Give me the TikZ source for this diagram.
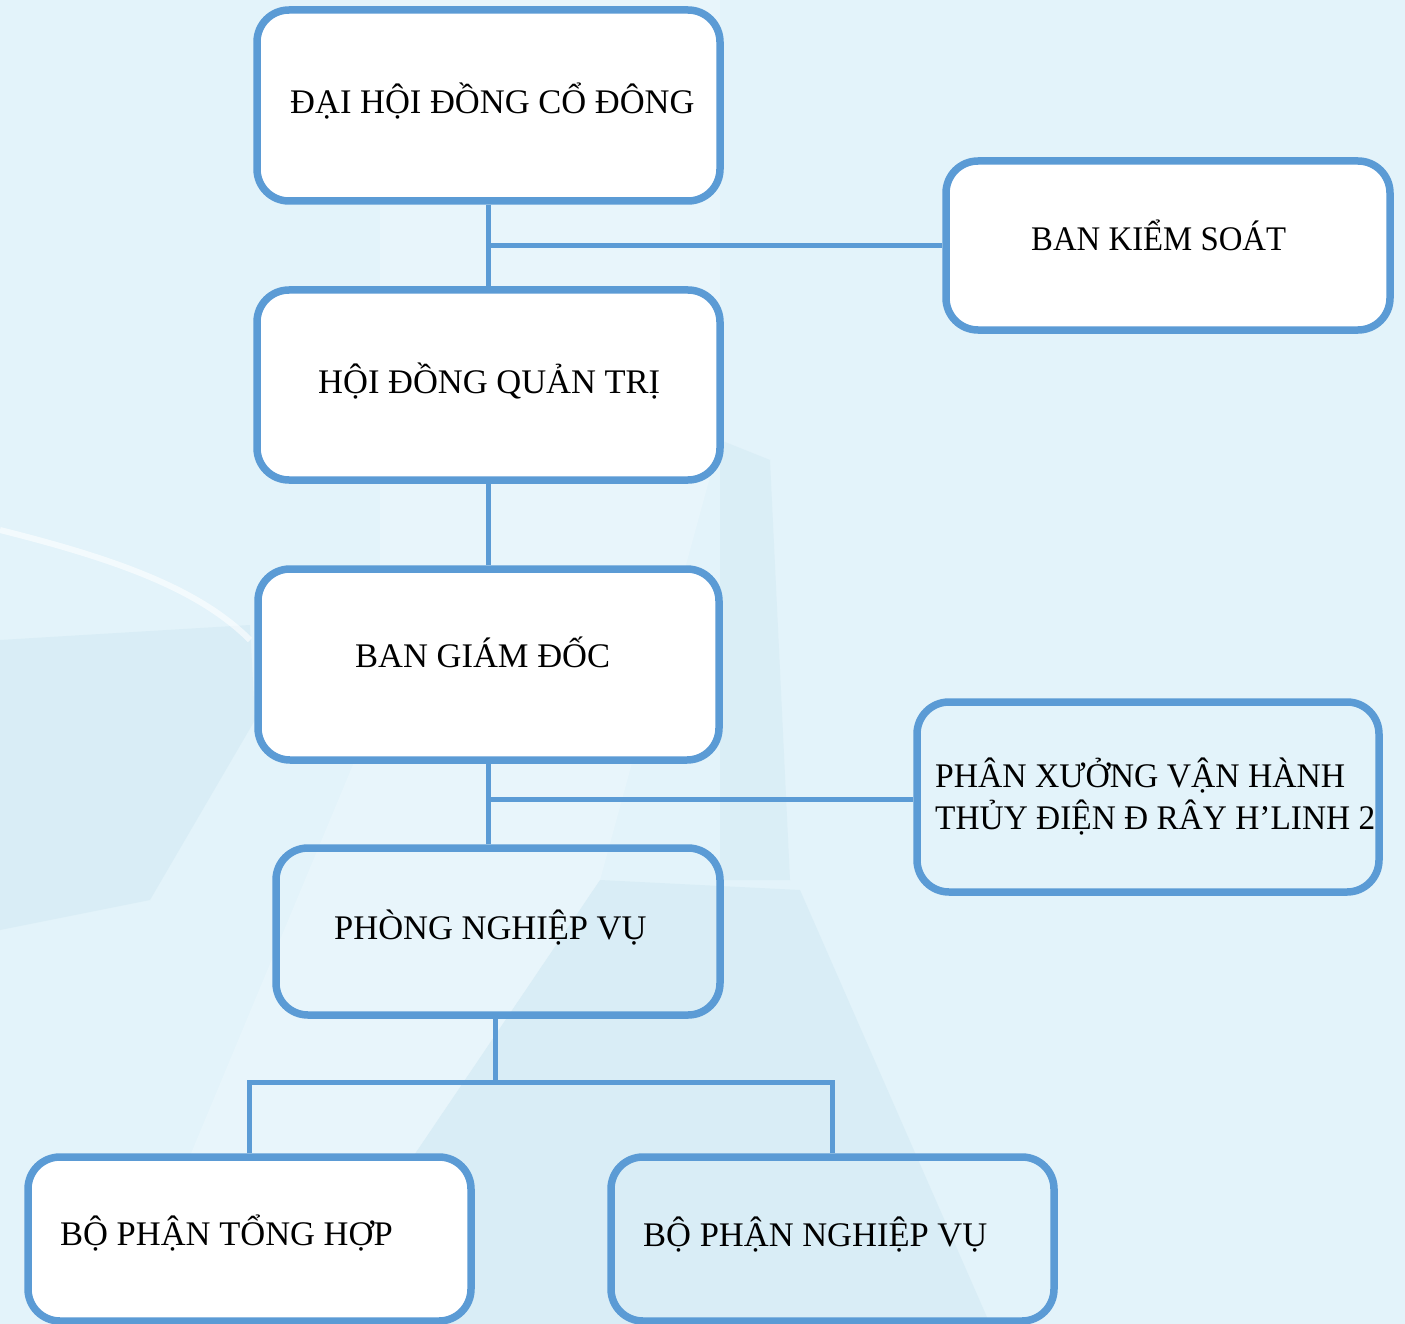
\documentclass[tikz,border=0pt]{standalone}
\usepackage{fontspec}
\setmainfont{Liberation Serif}
\definecolor{boxblue}{HTML}{5B9BD5}
\definecolor{bgblue}{HTML}{E3F3FA}
\definecolor{shadeblue}{HTML}{CBE5F0}
\definecolor{paleblue}{HTML}{F0F9FD}
\begin{document}
\begin{tikzpicture}[x=1pt,y=-1pt,
  orgbox/.style={draw=boxblue, line width=7.5pt, rounded corners=32pt, inner sep=0pt},
  conn/.style={draw=boxblue, line width=5pt},
  lbl/.style={font=\fontsize{34.5}{42}\selectfont, inner sep=0pt, anchor=base west, text=black}]
\useasboundingbox (0,0) rectangle (1405,1324);
% background
\fill[bgblue] (0,0) rectangle (1405,1324);
\fill[paleblue, opacity=0.45] (380,0) -- (720,0) -- (720,440) -- (600,880) -- (300,1324) -- (120,1324) -- (380,700) -- cycle;
\fill[shadeblue, opacity=0.4] (0,640) -- (250,625) -- (255,720) -- (150,900) -- (0,930) -- cycle;
\draw[white, opacity=0.6, line width=6pt] (0,530) .. controls (120,560) and (200,590) .. (250,640);
\fill[shadeblue, opacity=0.35] (720,440) -- (770,460) -- (790,880) -- (720,880) -- cycle;
\fill[shadeblue, opacity=0.4] (600,880) -- (800,890) -- (990,1324) -- (300,1324) -- cycle;
% boxes
\node[orgbox, fill=white, minimum width=463pt, minimum height=191pt] (b1) at (488.5,105.5) {};
\node[orgbox, fill=white, minimum width=444pt, minimum height=169pt] (b2) at (1168,245.5) {};
\node[orgbox, fill=white, minimum width=463pt, minimum height=190pt] (b3) at (488.5,385) {};
\node[orgbox, fill=white, minimum width=461pt, minimum height=191pt] (b4) at (488.5,664.5) {};
\node[orgbox, minimum width=462pt, minimum height=190pt] (b5) at (1148,797) {};
\node[orgbox, minimum width=444pt, minimum height=167pt] (b6) at (498,931.5) {};
\node[orgbox, fill=white, minimum width=443pt, minimum height=164pt] (b7) at (249.5,1239) {};
\node[orgbox, minimum width=443pt, minimum height=164pt] (b8) at (832.5,1239) {};
% texts
\node[lbl] (t1) at (290,114) {ĐẠI HỘI ĐỒNG CỔ ĐÔNG};
\node[lbl] (t2) at (1031,251) {\scalebox{0.95}[1]{BAN KIỂM SOÁT}};
\node[lbl] (t3) at (318,393) {HỘI ĐỒNG QUẢN TRỊ};
\node[lbl] (t4) at (355,667) {BAN GIÁM ĐỐC};
\node[lbl] (t5) at (935,787) {\scalebox{0.975}[1]{PHÂN XƯỞNG VẬN HÀNH}};
\node[lbl] (t5b) at (935,829) {\scalebox{0.967}[1]{THỦY ĐIỆN Đ RÂY H’LINH 2}};
\node[lbl] (t6) at (334,939) {PHÒNG NGHIỆP VỤ};
\node[lbl] (t7) at (60,1245) {BỘ PHẬN TỔNG HỢP};
\node[lbl] (t8) at (643,1246) {BỘ PHẬN NGHIỆP VỤ};
% connectors
\coordinate (j1) at (488,245.5);
\coordinate (j2) at (488,799);
\coordinate (split) at (495,1082);
\draw[conn] (b1.south) -- (b3.north);
\draw[conn] (j1) -- (b2.west);
\draw[conn] (b3.south) -- (b4.north);
\draw[conn] (b4.south) -- (b4.south |- b6.north);
\draw[conn] (j2) -- (j2 -| b5.west);
\draw[conn] (b6.south -| split) -- (split);
\draw[conn] (b7.north) |- (split) -| (b8.north);
\end{tikzpicture}
\end{document}
